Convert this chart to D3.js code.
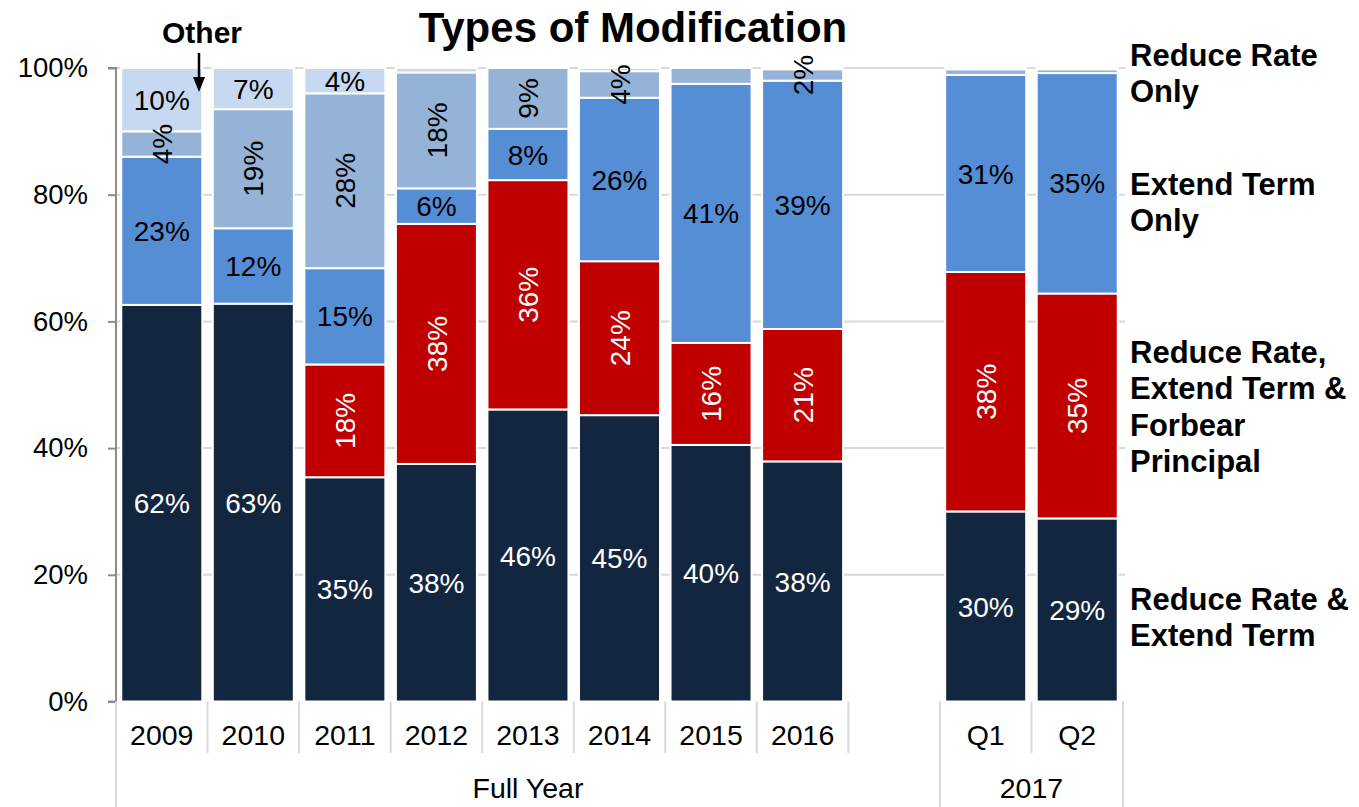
<!DOCTYPE html>
<html>
<head>
<meta charset="utf-8">
<script src="https://cdn.jsdelivr.net/npm/d3@7"></script>
<style>
  html, body { margin: 0; padding: 0; background: #fff; }
  svg { display: block; }
  text { font-family: "Liberation Sans", Arial, sans-serif; }
</style>
</head>
<body>
<svg id="chart" width="1359" height="807"></svg>
<script>
// ---------- DATA ----------
const categories = ["2009","2010","2011","2012","2013","2014","2015","2016","gap","Q1","Q2"];
const categoryLabels = ["2009","2010","2011","2012","2013","2014","2015","2016","","Q1","Q2"];
const groupLabels = ["Full Year","2017"];
const groupSpans = [[0,9],[9,11]];  // category index ranges [start, end)

const seriesKeys = ["rrExt","rrExtFor","extOnly","rateOnly","other"];
const seriesNames = ["Reduce Rate & Extend Term","Reduce Rate, Extend Term & Forbear Principal","Extend Term Only","Reduce Rate Only","Other"];

const rrExt    = [62.6, 62.8, 35.4, 37.5, 46.1, 45.2, 40.5, 37.9, 0, 30.0, 28.9];
const rrExtFor = [0,    0,    17.8, 37.9, 36.2, 24.3, 16.1, 20.9, 0, 37.8, 35.5];
const extOnly  = [23.4, 11.9, 15.2, 5.6,  8.1,  25.8, 40.9, 39.2, 0, 31.1, 34.8];
const rateOnly = [4.0,  18.8, 27.6, 18.3, 9.6,  4.2,  2.5,  1.8,  0, 0.9,  0.6];
const other    = [10.0, 6.5,  4.0,  0.7,  0,    0.5,  0,    0.2,  0, 0.2,  0.2];

const labRrExt    = ["62%","63%","35%","38%","46%","45%","40%","38%",null,"30%","29%"];
const labRrExtFor = [null,null,"18%","38%","36%","24%","16%","21%",null,"38%","35%"];
const labExtOnly  = ["23%","12%","15%","6%","8%","26%","41%","39%",null,"31%","35%"];
const labRateOnly = ["4%","19%","28%","18%","9%","4%",null,"2%",null,null,null];
const labOther    = ["10%","7%","4%",null,null,null,null,null,null,null,null];

const yTicks = [0,20,40,60,80,100];

// ---------- STYLE ----------
const colors = {rrExt:"#13263F", rrExtFor:"#C00000", extOnly:"#558ED5", rateOnly:"#95B3D7", other:"#C6D9F1"};
const labelColors = {rrExt:"#fff", rrExtFor:"#fff", extOnly:"#000", rateOnly:"#000", other:"#000"};
const rotated = {rrExt:false, rrExtFor:true, extOnly:false, rateOnly:true, other:false};
const labelSets = {rrExt:labRrExt, rrExtFor:labRrExtFor, extOnly:labExtOnly, rateOnly:labRateOnly, other:labOther};
const seriesValues = {rrExt, rrExtFor, extOnly, rateOnly, other};

const svg = d3.select("#chart");
const plotL = 116, plotR = 1123, plotTop = 68, plotBottom = 701.5;

const x = d3.scaleBand().domain(categories).range([plotL, plotR]).paddingInner(0.115).paddingOuter(0.0575);
const y = d3.scaleLinear().domain([0,100]).range([plotBottom, plotTop]);

// table for stack
const table = categories.map((c,i) => {
  const row = {cat:c};
  seriesKeys.forEach(k => row[k] = seriesValues[k][i]);
  return row;
});
const stacked = d3.stack().keys(seriesKeys)(table);

// gridlines
svg.append("g").selectAll("line").data(yTicks.filter(d=>d>0)).join("line")
  .attr("x1", plotL).attr("x2", plotR+2)
  .attr("y1", d=>y(d)).attr("y2", d=>y(d))
  .attr("stroke", "#d9d9d9").attr("stroke-width", 2);

// bars
const gBars = svg.append("g");
stacked.forEach(s => {
  gBars.append("g").selectAll("rect")
    .data(s.filter(d => d.data.cat !== "gap" && d[1]-d[0] > 0))
    .join("rect")
    .attr("x", d => x(d.data.cat))
    .attr("width", x.bandwidth())
    .attr("y", d => y(d[1]))
    .attr("height", d => y(d[0]) - y(d[1]))
    .attr("fill", colors[s.key])
    .attr("stroke", "#fff").attr("stroke-width", 2);
});

// data labels
const gLab = svg.append("g");
stacked.forEach(s => {
  const labs = labelSets[s.key];
  s.forEach((d,i) => {
    if (!labs[i]) return;
    const cx = x(d.data.cat) + x.bandwidth()/2;
    const cy = y((d[0]+d[1])/2);
    const t = gLab.append("text")
      .attr("text-anchor","middle").attr("dy","0.36em")
      .attr("font-size", 28).attr("fill", labelColors[s.key])
      .text(labs[i]);
    if (rotated[s.key]) t.attr("transform", `translate(${cx},${cy}) rotate(-90)`);
    else t.attr("x", cx).attr("y", cy);
  });
});

// y axis
const yAxis = svg.append("g").attr("transform", `translate(${plotL},0)`)
  .call(d3.axisLeft(y).tickValues(yTicks).tickFormat(d => d + "%").tickSize(8).tickPadding(20));
yAxis.select(".domain").attr("stroke", "#8c8c8c").attr("stroke-width", 2).attr("d", `M-8,${plotTop}H0V${plotBottom}H-8`);
yAxis.selectAll(".tick line").attr("stroke", "#8c8c8c").attr("stroke-width", 2);
yAxis.selectAll(".tick text").attr("font-size", 27.5).attr("fill", "#000").attr("font-family", "Liberation Sans, Arial, sans-serif");

// category axis (bottom)
const step = x.step();
const gX = svg.append("g");
const boundaries = d3.range(categories.length + 1).map(i => plotL + i*step);
const groupEdges = new Set([0, ...groupSpans.map(g=>g[1])]);
boundaries.forEach((bx,i) => {
  gX.append("line").attr("x1", bx).attr("x2", bx)
    .attr("y1", plotBottom).attr("y2", groupEdges.has(i) ? 807 : 753)
    .attr("stroke", "#d9d9d9").attr("stroke-width", 2);
});
gX.selectAll("text.cat").data(categories).join("text").attr("class","cat")
  .attr("x", d => x(d) + x.bandwidth()/2).attr("y", 745)
  .attr("text-anchor","middle").attr("font-size", 28.5).attr("fill","#000")
  .text((d,i) => categoryLabels[i]);
groupSpans.forEach((g,i) => {
  gX.append("text")
    .attr("x", (boundaries[g[0]] + boundaries[g[1]])/2).attr("y", 798)
    .attr("text-anchor","middle").attr("font-size", 28.5).attr("fill","#000")
    .text(groupLabels[i]);
});

// title
svg.append("text").attr("x", 633).attr("y", 42).attr("text-anchor","middle")
  .attr("font-family","Lato, 'Open Sans', sans-serif").attr("font-weight","bold")
  .attr("font-size", 42).attr("fill","#000")
  .text("Types of Modification");

// right-side series labels
const rightLabels = [
  {lines:["Reduce Rate","Only"], y:66},
  {lines:["Extend Term","Only"], y:195},
  {lines:["Reduce Rate,","Extend Term &","Forbear","Principal"], y:363},
  {lines:["Reduce Rate &","Extend Term"], y:610}
];
rightLabels.forEach(r => {
  const t = svg.append("text").attr("x", 1130).attr("y", r.y)
    .attr("font-weight","bold").attr("font-size", 31).attr("fill","#000");
  r.lines.forEach((l,j) => t.append("tspan").attr("x",1130).attr("dy", j===0?0:36.3).text(l));
});

// "Other" annotation
svg.append("text").attr("x", 202).attr("y", 43).attr("text-anchor","middle")
  .attr("font-weight","bold").attr("font-size", 30).attr("fill","#000").text("Other");
svg.append("line").attr("x1",199).attr("x2",199).attr("y1",53).attr("y2",80)
  .attr("stroke","#000").attr("stroke-width",2.5);
svg.append("path").attr("d","M193,77 L205,77 L199,92 Z").attr("fill","#000");
</script>
</body>
</html>
